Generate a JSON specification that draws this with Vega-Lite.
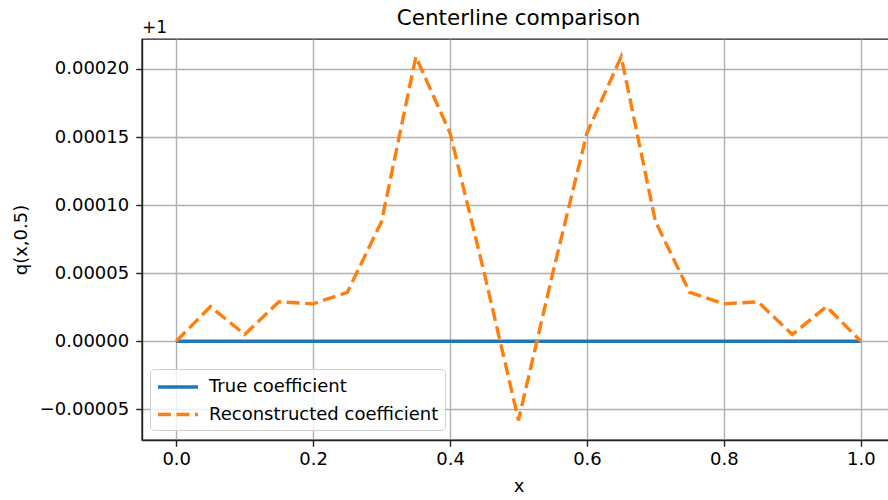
{
  "$schema": "https://vega.github.io/schema/vega-lite/v6.json",
  "autosize": {"type": "none"},
  "padding": {"left": 142, "top": 39, "right": 0, "bottom": 60},
  "width": 753,
  "height": 401,
  "title": {"text": "Centerline comparison", "font": "DejaVu Sans", "fontSize": 21.5, "fontWeight": "normal", "color": "#000", "frame": "group", "baseline": "alphabetic", "offset": 0, "dy": 27},
  "config": {
    "font": "DejaVu Sans",
    "view": {"stroke": "#222", "strokeWidth": 1.4},
    "axis": {
      "labelFont": "DejaVu Sans", "labelFontSize": 18, "labelColor": "#000",
      "titleFont": "DejaVu Sans", "titleFontSize": 18, "titleFontWeight": "normal", "titleColor": "#000",
      "domainColor": "#222", "domainWidth": 1.4, "tickColor": "#222", "tickWidth": 1.4, "tickSize": 6.3,
      "gridColor": "#b0b0b0", "gridWidth": 1.4
    }
  },
  "data": {"values": [
    {"x": 0.0, "dq": 0, "series": "True coefficient"},
    {"x": 1.0, "dq": 0, "series": "True coefficient"},
    {"x": 0.0, "dq": 0, "series": "Reconstructed coefficient"},
    {"x": 0.05, "dq": 0.0000255, "series": "Reconstructed coefficient"},
    {"x": 0.1, "dq": 0.000005, "series": "Reconstructed coefficient"},
    {"x": 0.15, "dq": 0.000029, "series": "Reconstructed coefficient"},
    {"x": 0.2, "dq": 0.0000275, "series": "Reconstructed coefficient"},
    {"x": 0.25, "dq": 0.000036, "series": "Reconstructed coefficient"},
    {"x": 0.3, "dq": 0.000088, "series": "Reconstructed coefficient"},
    {"x": 0.35, "dq": 0.000209, "series": "Reconstructed coefficient"},
    {"x": 0.4, "dq": 0.000153, "series": "Reconstructed coefficient"},
    {"x": 0.45, "dq": 0.00005, "series": "Reconstructed coefficient"},
    {"x": 0.5, "dq": -0.000058, "series": "Reconstructed coefficient"},
    {"x": 0.55, "dq": 0.00005, "series": "Reconstructed coefficient"},
    {"x": 0.6, "dq": 0.000153, "series": "Reconstructed coefficient"},
    {"x": 0.65, "dq": 0.000209, "series": "Reconstructed coefficient"},
    {"x": 0.7, "dq": 0.000088, "series": "Reconstructed coefficient"},
    {"x": 0.75, "dq": 0.000036, "series": "Reconstructed coefficient"},
    {"x": 0.8, "dq": 0.0000275, "series": "Reconstructed coefficient"},
    {"x": 0.85, "dq": 0.000029, "series": "Reconstructed coefficient"},
    {"x": 0.9, "dq": 0.000005, "series": "Reconstructed coefficient"},
    {"x": 0.95, "dq": 0.0000255, "series": "Reconstructed coefficient"},
    {"x": 1.0, "dq": 0, "series": "Reconstructed coefficient"}
  ]},
  "layer": [
    {
      "mark": {"type": "line", "strokeWidth": 3.4, "clip": true},
      "encoding": {
        "x": {"field": "x", "type": "quantitative", "scale": {"domain": [-0.05, 1.05], "nice": false, "zero": false},
              "axis": {"values": [0, 0.2, 0.4, 0.6, 0.8, 1.0], "format": ".1f", "title": "x", "labelPadding": 4, "titlePadding": 9}},
        "y": {"field": "dq", "type": "quantitative", "scale": {"domain": [-0.0000725, 0.000222], "nice": false, "zero": false},
              "axis": {"values": [-0.00005, 0, 0.00005, 0.0001, 0.00015, 0.0002], "format": ".5f", "title": "q(x,0.5)", "labelPadding": 7, "titlePadding": 9}},
        "color": {"field": "series", "type": "nominal",
                  "scale": {"domain": ["True coefficient", "Reconstructed coefficient"], "range": ["#1f77b4", "#ff7f0e"]},
                  "legend": {"title": null, "orient": "none", "legendX": 8, "legendY": 330,
                             "symbolType": "M-1,0H3", "symbolSize": 400, "symbolStrokeWidth": 3.4, "symbolFillColor": "transparent",
                             "labelFontSize": 18, "labelFont": "DejaVu Sans", "labelColor": "#000", "labelOffset": 29, "labelLimit": 400,
                             "fillColor": "rgba(255,255,255,0.8)", "strokeColor": "#d0d0d0", "cornerRadius": 4,
                             "padding": 6, "rowPadding": 6.5}},
        "strokeDash": {"field": "series", "type": "nominal",
                       "scale": {"domain": ["True coefficient", "Reconstructed coefficient"], "range": [[1, 0], [13, 5.5]]},
                       "legend": null}
      }
    },
    {
      "data": {"values": [{"label": "+1"}]},
      "mark": {"type": "text", "align": "left", "baseline": "alphabetic", "dy": -6, "fontSize": 17, "font": "DejaVu Sans", "color": "#000"},
      "encoding": {
        "x": {"datum": -0.05, "type": "quantitative"},
        "y": {"datum": 0.000222, "type": "quantitative"},
        "text": {"field": "label"}
      }
    }
  ]
}
